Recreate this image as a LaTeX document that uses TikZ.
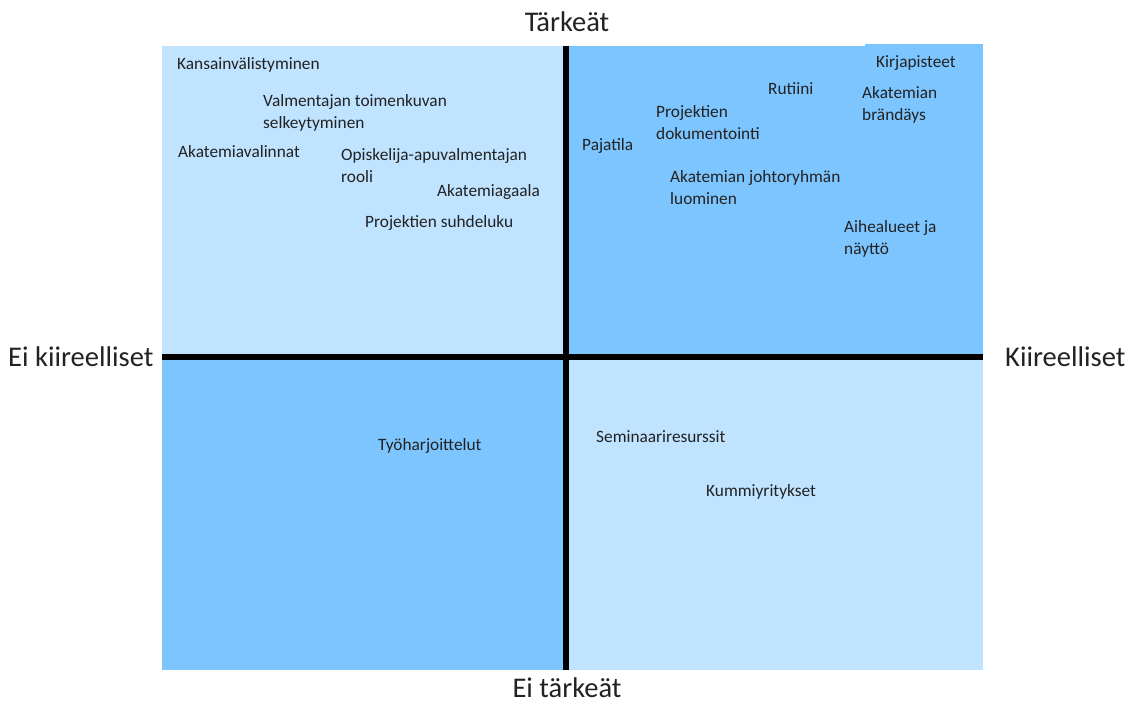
\documentclass[tikz,border=0pt]{standalone}
\usepackage{fontspec}
\setmainfont{Carlito}
\definecolor{qlight}{HTML}{C0E3FF}
\definecolor{qdark}{HTML}{7DC5FF}
\definecolor{txt}{HTML}{222222}
\begin{document}
\begin{tikzpicture}[x=1pt,y=-1pt,
  item/.style={anchor=west,align=left,inner sep=0pt,text=txt,font=\fontsize{17.3}{22}\selectfont},
  axis/.style={inner sep=0pt,text=txt,font=\fontsize{28.5}{30}\selectfont},
  divider/.style={black,line width=5.5pt}]
\useasboundingbox (0,0) rectangle (1136,704);
\fill[white] (0,0) rectangle (1136,704);
\fill[qlight] (162,46) rectangle (566,357);
\fill[qdark] (566,46) rectangle (983,357);
\fill[qdark] (865,44) rectangle (983,46);
\fill[qdark] (162,357) rectangle (566,670);
\fill[qlight] (566,357) rectangle (983,670);
\coordinate (vt) at (566,46);
\coordinate (vb) at (566,670);
\coordinate (hl) at (162,357);
\coordinate (hr) at (983,357);
\draw[divider] (vt) -- (vb);
\draw[divider] (hl) -- (hr);
% axis labels
\node[axis] (top) at (567,22) {Tärkeät};
\node[axis] (bottom) at (567,688) {Ei tärkeät};
\node[axis,anchor=west] (left) at (8,357) {Ei kiireelliset};
\node[axis,anchor=west] (right) at (1005,357) {Kiireelliset};
% top-left
\node[item] (n1) at (177,65) {Kansainvälistyminen};
\node[item] (n2) at (263,113) {Valmentajan toimenkuvan\\selkeytyminen};
\node[item] (n3) at (178,152) {Akatemiavalinnat};
\node[item] (n4) at (341,166) {Opiskelija-apuvalmentajan\\rooli};
\node[item] (n5) at (437,192) {Akatemiagaala};
\node[item] (n6) at (365,223) {Projektien suhdeluku};
% top-right
\node[item] (n7) at (876,63) {Kirjapisteet};
\node[item] (n8) at (768,89) {Rutiini};
\node[item] (n9) at (862,105) {Akatemian\\brändäys};
\node[item] (n10) at (656,123) {Projektien\\dokumentointi};
\node[item] (n11) at (582,146) {Pajatila};
\node[item] (n12) at (670,188) {Akatemian johtoryhmän\\luominen};
\node[item] (n13) at (844,239) {Aihealueet ja\\näyttö};
% bottom
\node[item] (n14) at (378,446) {Työharjoittelut};
\node[item] (n15) at (596,437) {Seminaariresurssit};
\node[item] (n16) at (706,492) {Kummiyritykset};
\end{tikzpicture}
\end{document}
